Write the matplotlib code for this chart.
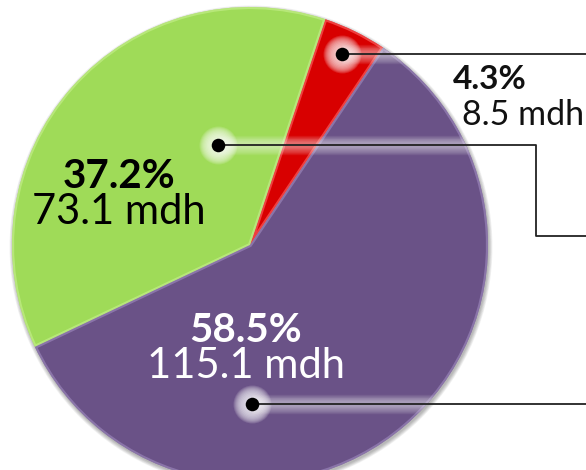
import matplotlib
matplotlib.use("Agg")
import matplotlib.pyplot as plt
import numpy as np
from matplotlib.patches import Circle, Wedge

# ---- data -------------------------------------------------------------
pct_labels = ["4.3%", "37.2%", "58.5%"]
values = [8.5, 73.1, 115.1]                 # mdh
value_labels = ["8.5 mdh", "73.1 mdh", "115.1 mdh"]
colors = ["#d80000", "#9fdb58", "#6a5287"]
bevel = ["#ff6a6a", "#c8f090", "#a08cc0"]
text_colors = ["#111111", "#000000", "#ffffff"]

# ---- layout (pixels, y measured from top) -----------------------------
W, H = 586, 470
cx, cy, R = 250, H - 245, 238
# label dot: (fraction along wedge angle, fraction of radius)
anchors = [(0.54, 0.89), (0.27, 0.44), (0.31, 0.67)]
elbows = [None, 536, None]
elbow_y = 236
# text: (x, baseline pct, baseline value, ha, size pct, size value)
text_pos = [(453, 89, 125, "left", 24, 24.5),
            (119, 188, 224, "center", 29, 30),
            (246, 342, 378, "center", 29, 30)]

plt.rcParams["font.family"] = ["Lato", "DejaVu Sans"]

fig = plt.figure(figsize=(W / 100, H / 100), dpi=100)
ax = fig.add_axes([0, 0, 1, 1])

# soft shadow under the pie
for k in range(6):
    ax.add_patch(Circle((cx + 1, cy - 2), R + k * 0.7, color="k",
                        alpha=0.05, lw=0, zorder=0.5))

wedges, _ = ax.pie(values, colors=colors, startangle=56, counterclock=True,
                   center=(cx, cy), radius=R, wedgeprops=dict(linewidth=0))

# inner bevel highlight
for w, c in zip(wedges, bevel):
    hw = Wedge((cx, cy), R, w.theta1, w.theta2, fill=False, ec=c, lw=3,
               alpha=0.6, zorder=2)
    ax.add_patch(hw)
    hw.set_clip_path(w)

ax.set_xlim(0, W)
ax.set_ylim(0, H)
ax.set_aspect("equal")
ax.axis("off")

clip = Circle((cx, cy), R, transform=ax.transData)

for i, w in enumerate(wedges):
    f, rf = anchors[i]
    ang = np.deg2rad(w.theta1 + f * (w.theta2 - w.theta1))
    px, py = cx + rf * R * np.cos(ang), cy + rf * R * np.sin(ang)
    if elbows[i] is None:
        xs, ys = [px, W], [py, py]
    else:
        xs = [px, elbows[i], elbows[i], W]
        ys = [py, py, H - elbow_y, H - elbow_y]
    # white glow inside the pie
    for lw in np.linspace(14, 4, 8):
        gl, = ax.plot(xs[:2], ys[:2], color="white", lw=lw, alpha=0.07,
                      solid_capstyle="butt", zorder=3)
        gl.set_clip_path(clip)
    for s in np.linspace(750, 150, 10):
        ax.scatter([px], [py], s=s, color="white", alpha=0.13, lw=0,
                   zorder=3)
    ax.plot(xs, ys, color="#222222", lw=1.3, zorder=4)
    ax.scatter([px], [py], s=95, color="black", lw=0, zorder=5)

    tx, yb1, yb2, ha, s1, s2 = text_pos[i]
    x2 = tx + 9 if ha == "left" else tx
    ax.text(tx, H - yb1, pct_labels[i], ha=ha, va="baseline",
            fontsize=s1, fontweight="bold", color=text_colors[i], zorder=6)
    ax.text(x2, H - yb2, value_labels[i], ha=ha, va="baseline",
            fontsize=s2, color=text_colors[i], zorder=6)

fig.savefig("out.png", dpi=100)
